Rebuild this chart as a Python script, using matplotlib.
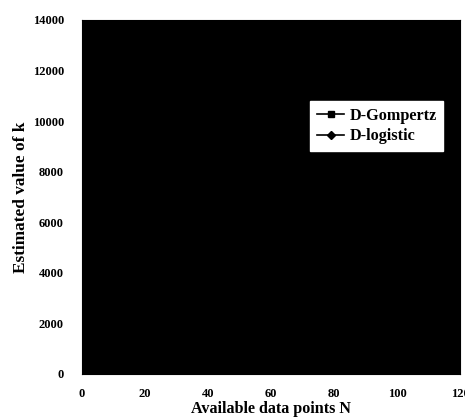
import matplotlib
matplotlib.use("Agg")
import matplotlib.pyplot as plt

# estimated values (lines are drawn black on the black plot area)
n_points = [5, 10, 15, 20, 25, 30]
gompertz_k = [9600, 10400, 11000, 10800, 9500, 9300]
logistic_k = [9400, 9700, 9800, 9600, 9200, 9100]

plt.rcParams['font.family'] = ['Liberation Serif', 'DejaVu Serif']
plt.rcParams['font.weight'] = 'bold'

fig = plt.figure(figsize=(4.65, 4.17), dpi=100)
ax = fig.add_axes([82 / 465, 1 - 374 / 417, 378 / 465, 354 / 417])
ax.set_facecolor('black')

ax.plot(n_points, gompertz_k, color='black', marker='s', markersize=5, lw=1.2, label='D-Gompertz')
ax.plot(n_points, logistic_k, color='black', marker='D', markersize=4, lw=1.2, label='D-logistic')

ax.set_xlim(0, 120)
ax.set_ylim(0, 14000)
ax.set_xticks(range(0, 121, 20))
ax.set_yticks(range(0, 14001, 2000))
ax.tick_params(length=0, labelsize=9)
ax.tick_params(axis='x', pad=10)
ax.tick_params(axis='y', pad=13)

ax.set_xlabel('Available data points N', fontsize=11.6, fontweight='bold', labelpad=0.5)
ax.set_ylabel('Estimated value of k', fontsize=12.4, fontweight='bold', labelpad=3)

leg = ax.legend(loc='upper right', bbox_to_anchor=(0.955, 0.771), borderaxespad=0,
                fancybox=False, framealpha=1, facecolor='white', edgecolor='white',
                fontsize=11.7, handlelength=1.7, handletextpad=0.3, labelspacing=0.3,
                borderpad=0.4)

fig.savefig('out.png', dpi=100)
